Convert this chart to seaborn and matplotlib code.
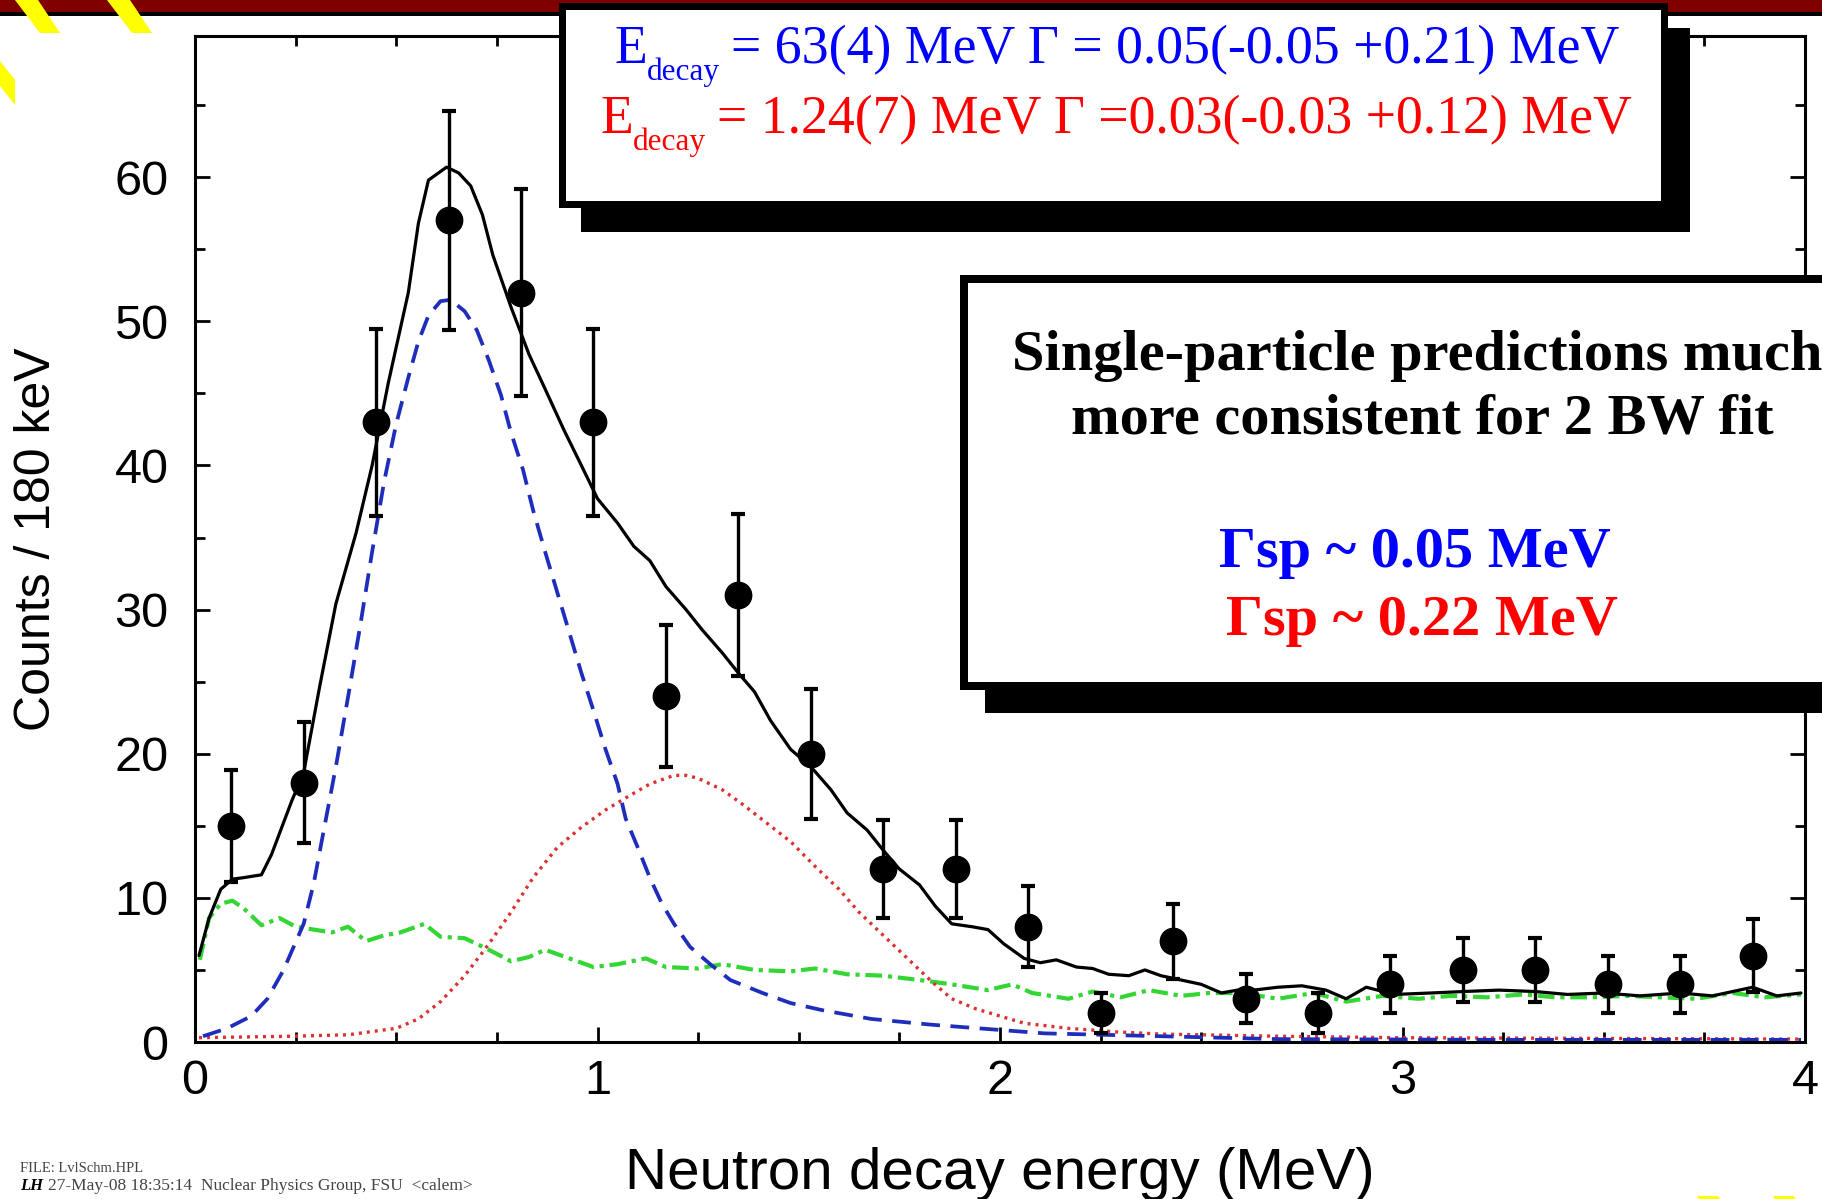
import matplotlib
matplotlib.use('Agg')
import matplotlib.pyplot as plt
import seaborn as sns
from matplotlib.patches import Rectangle, Polygon
from matplotlib.ticker import MultipleLocator

# measured spectrum, counts per 180 keV bin
bin_centers = [0.09, 0.27, 0.45, 0.63, 0.81, 0.99, 1.17, 1.35, 1.53, 1.71, 1.89,
               2.07, 2.25, 2.43, 2.61, 2.79, 2.97, 3.15, 3.33, 3.51, 3.69, 3.87]
counts = [15, 18, 43, 57, 52, 43, 24, 31, 20, 12, 12, 8, 2, 7, 3, 2, 4, 5, 5, 4, 4, 6]
count_err = [3.9, 4.2, 6.5, 7.6, 7.2, 6.5, 4.9, 5.6, 4.5, 3.4, 3.4, 2.8, 1.4, 2.6,
             1.7, 1.4, 2.0, 2.2, 2.2, 2.0, 2.0, 2.5]

# total fit (solid black)
total_x = [0.01, 0.035, 0.064, 0.093, 0.12, 0.165, 0.19, 0.24, 0.27, 0.31, 0.35, 0.40,
           0.44, 0.48, 0.53, 0.555, 0.58, 0.625, 0.655, 0.685, 0.714, 0.74, 0.785, 0.83,
           0.87, 0.916, 0.96, 1.0, 1.05, 1.09, 1.13, 1.17, 1.22, 1.26, 1.31, 1.35, 1.39,
           1.43, 1.48, 1.53, 1.58, 1.62, 1.67, 1.71, 1.75, 1.80, 1.84, 1.88, 1.93, 1.97,
           2.01, 2.06, 2.10, 2.14, 2.19, 2.23, 2.27, 2.32, 2.36, 2.40, 2.45, 2.50, 2.55,
           2.59, 2.63, 2.69, 2.75, 2.81, 2.86, 2.91, 2.98, 3.07, 3.15, 3.24, 3.33, 3.41,
           3.50, 3.59, 3.69, 3.77, 3.87, 3.93, 3.99]
total_y = [6.0, 8.6, 10.6, 11.3, 11.4, 11.6, 13.0, 16.7, 18.7, 24.7, 30.4, 35.3,
           40.0, 45.7, 52.0, 56.8, 59.8, 60.7, 60.3, 59.4, 57.4, 54.6, 51.0, 47.7,
           45.3, 42.5, 40.0, 37.7, 36.0, 34.4, 33.4, 31.6, 30.0, 28.6, 27.0, 25.6, 24.3,
           22.3, 20.3, 19.1, 17.5, 15.9, 14.7, 13.3, 12.0, 10.9, 9.4, 8.2, 8.0, 7.8,
           6.8, 5.8, 5.5, 5.7, 5.2, 5.1, 4.7, 4.6, 5.0, 4.6, 4.3, 4.0, 3.4,
           3.6, 3.6, 3.8, 3.9, 3.6, 3.0, 3.8, 3.3, 3.4, 3.5, 3.6, 3.5, 3.3,
           3.4, 3.2, 3.4, 3.2, 3.8, 3.2, 3.4]

# first resonance (blue dashed)
low_x = [0.02, 0.08, 0.14, 0.18, 0.22, 0.27, 0.295, 0.32, 0.35, 0.38, 0.41, 0.44,
         0.47, 0.50, 0.53, 0.555, 0.58, 0.61, 0.635, 0.67, 0.70, 0.73, 0.76, 0.785,
         0.815, 0.84, 0.87, 0.90, 0.93, 0.96, 0.99, 1.02, 1.05, 1.07, 1.10, 1.13,
         1.16, 1.19, 1.23, 1.28, 1.33, 1.41, 1.48, 1.56, 1.68, 1.83, 1.97, 2.11,
         2.40, 2.69, 3.27, 3.99]
low_y = [0.4, 0.95, 1.8, 3.0, 5.0, 8.2, 11.0, 14.7, 19.1, 23.9, 28.8, 34.0,
         38.9, 42.9, 46.1, 48.6, 50.4, 51.4, 51.5, 50.7, 49.4, 47.3, 44.9, 42.3,
         39.7, 36.9, 34.0, 31.2, 28.4, 25.6, 23.0, 20.3, 17.9, 15.5, 13.5, 11.4,
         9.6, 8.2, 6.6, 5.4, 4.3, 3.4, 2.7, 2.2, 1.6, 1.2, 0.9, 0.6,
         0.4, 0.2, 0.15, 0.15]

# second resonance (red dotted)
high_x = [0.01, 0.24, 0.38, 0.50, 0.555, 0.61, 0.67, 0.73, 0.785, 0.84, 0.90, 0.96,
          1.02, 1.08, 1.13, 1.19, 1.22, 1.25, 1.31, 1.36, 1.42, 1.48, 1.54, 1.60,
          1.65, 1.71, 1.77, 1.83, 1.88, 1.94, 2.00, 2.06, 2.17, 2.29, 2.40, 2.69,
          2.98, 3.99]
high_y = [0.3, 0.4, 0.5, 0.95, 1.6, 2.8, 4.6, 6.8, 9.0, 11.4, 13.5, 14.9,
          16.1, 17.1, 17.9, 18.5, 18.5, 18.3, 17.5, 16.5, 15.2, 13.9, 12.2, 10.6,
          9.0, 7.4, 5.8, 4.2, 3.0, 2.3, 1.8, 1.3, 0.95, 0.7, 0.55, 0.4,
          0.3, 0.2]

# background (green dash-dot)
bg_x = [0.012, 0.035, 0.064, 0.093, 0.12, 0.165, 0.21, 0.25, 0.295, 0.34, 0.38, 0.425,
        0.47, 0.51, 0.57, 0.61, 0.67, 0.73, 0.785, 0.83, 0.87, 0.93, 0.99, 1.05,
        1.12, 1.17, 1.25, 1.31, 1.39, 1.48, 1.54, 1.62, 1.71, 1.80, 1.88, 1.97,
        2.03, 2.08, 2.17, 2.23, 2.30, 2.37, 2.45, 2.52, 2.60, 2.69, 2.78, 2.86,
        2.95, 3.04, 3.12, 3.21, 3.30, 3.38, 3.47, 3.56, 3.64, 3.73, 3.82, 3.90, 3.99]
bg_y = [5.7, 8.6, 9.6, 9.8, 9.3, 8.1, 8.6, 8.0, 7.8, 7.6, 8.0, 7.0,
        7.4, 7.6, 8.2, 7.3, 7.2, 6.4, 5.6, 5.9, 6.4, 5.8, 5.2, 5.4,
        5.8, 5.2, 5.1, 5.4, 5.0, 4.9, 5.1, 4.7, 4.6, 4.3, 4.0, 3.6,
        4.0, 3.4, 3.0, 3.5, 3.1, 3.6, 3.2, 3.4, 3.4, 3.0, 3.4, 2.8,
        3.2, 3.0, 3.2, 3.1, 3.3, 3.1, 3.1, 3.2, 3.1, 3.0, 3.4, 3.1, 3.3]

W, H = 1822, 1199


def fx(x):
    return x / W


def fy(y):
    return 1 - y / H


sns.set_theme(style='ticks')
plt.rcParams['font.family'] = ['Liberation Sans', 'DejaVu Sans']

fig = plt.figure(figsize=(W / 100, H / 100), dpi=100)
fig.patch.set_facecolor('white')
ax = fig.add_axes([fx(195), fy(1042), (1805 - 195) / W, (1042 - 36) / H])

sns.lineplot(x=bg_x, y=bg_y, ax=ax, color='#33d633', lw=3.0,
             linestyle=(0, (4.0, 1.4, 1.0, 1.4)))
sns.lineplot(x=high_x, y=high_y, ax=ax, color='#dd3030', lw=2.4,
             linestyle=(0, (0.9, 1.5)))
sns.lineplot(x=low_x, y=low_y, ax=ax, color='#1f2dbd', lw=2.7,
             linestyle=(0, (5, 2.8)))
sns.lineplot(x=total_x, y=total_y, ax=ax, color='black', lw=2.3)
ax.errorbar(bin_centers, counts, yerr=count_err, fmt='o', color='black',
            ms=19, elinewidth=2.4, capsize=5, capthick=3, zorder=5)

ax.set_xlim(0, 4)
ax.set_ylim(0, 69.8)
ax.xaxis.set_major_locator(MultipleLocator(1))
ax.xaxis.set_minor_locator(MultipleLocator(0.25))
ax.yaxis.set_major_locator(MultipleLocator(10))
ax.yaxis.set_minor_locator(MultipleLocator(5))
ax.tick_params(which='both', direction='in', top=True, right=True, width=2,
               color='black', labelsize=35, labelcolor='black')
ax.tick_params(which='major', length=11)
ax.tick_params(which='minor', length=7)
ax.tick_params(axis='x', pad=12)
ax.tick_params(axis='y', pad=19)
for sp in ax.spines.values():
    sp.set_linewidth(2.2)
    sp.set_color('black')

ax.set_xlabel('Neutron decay energy (MeV)', fontsize=42, color='black')
ax.xaxis.label.set_va('center')
ax.xaxis.set_label_coords(0.5, (1042 - 1174) / 1006)
ax.set_ylabel('Counts / 180 keV', fontsize=36, color='black')
ax.yaxis.label.set_va('center')
ax.yaxis.set_label_coords((37 - 195) / 1610, 0.5)

# slide decoration: dark red bar and yellow stripes
fig.add_artist(Rectangle((0, fy(12.5)), 1, 12.5 / H, transform=fig.transFigure,
                         facecolor='#800000', edgecolor='none', zorder=2))
fig.add_artist(Rectangle((0, fy(15.5)), 1, 3 / H, transform=fig.transFigure,
                         facecolor='black', edgecolor='none', zorder=2))
stripes = [
    [(15, 0), (38, 0), (60, 33), (40, 33)],
    [(107, 0), (130, 0), (152, 33), (132, 33)],
    [(0, 61), (15, 80), (15, 105), (0, 86)],
    [(1697, 1196), (1718, 1196), (1720, 1199), (1699, 1199)],
    [(1773, 1196), (1794, 1196), (1796, 1199), (1775, 1199)],
]
for pts in stripes:
    fig.add_artist(Polygon([(fx(a), fy(b)) for a, b in pts], closed=True,
                           transform=fig.transFigure, facecolor='#ffff00',
                           edgecolor='none', zorder=3))


def boxed(x0, y0, x1, y1, shadow_dx, shadow_dy, lw_px):
    fig.add_artist(Rectangle((fx(x0 + shadow_dx), fy(y1 + shadow_dy)),
                             (x1 - x0) / W, (y1 - y0) / H, transform=fig.transFigure,
                             facecolor='black', edgecolor='none', zorder=4))
    h = lw_px / 2
    fig.add_artist(Rectangle((fx(x0 + h), fy(y1 - h)), (x1 - x0 - lw_px) / W,
                             (y1 - y0 - lw_px) / H, transform=fig.transFigure,
                             facecolor='white', edgecolor='black',
                             linewidth=lw_px * 0.72, zorder=5))


serif = ['Liberation Serif', 'DejaVu Serif']


def fit_line(x_e, x_sub, x_rest, base, text, color):
    fig.text(fx(x_e), fy(base), 'E', ha='left', va='baseline', fontsize=38.7,
             color=color, family=serif, zorder=6)
    fig.text(fx(x_sub), fy(base + 17), 'decay', ha='left', va='baseline', fontsize=22.5,
             color=color, family=serif, zorder=6)
    fig.text(fx(x_rest), fy(base), text, ha='left', va='baseline', fontsize=38.7,
             color=color, family=serif, zorder=6)


# fit-result box
boxed(558, 3, 1667, 207, 23, 25, 7)
fit_line(615, 647, 731, 63, '= 63(4) MeV Γ = 0.05(-0.05 +0.21) MeV', '#0000ff')
fit_line(601, 633, 717, 133, '= 1.24(7) MeV Γ =0.03(-0.03 +0.12) MeV', '#ff0000')

# comment box
boxed(960, 275, 1860, 690, 25, 23, 8)
fig.text(fx(1417), fy(370), 'Single-particle predictions much', ha='center',
         va='baseline', fontsize=42, fontweight='bold', color='black', family=serif, zorder=6)
fig.text(fx(1422), fy(433), 'more consistent for 2 BW fit', ha='center',
         va='baseline', fontsize=42, fontweight='bold', color='black', family=serif, zorder=6)
fig.text(fx(1415), fy(567), 'Γsp ~ 0.05 MeV', ha='center', va='baseline',
         fontsize=42, fontweight='bold', color='#0000ff', family=serif, zorder=6)
fig.text(fx(1422), fy(635), 'Γsp ~ 0.22 MeV', ha='center', va='baseline',
         fontsize=42, fontweight='bold', color='#ff0000', family=serif, zorder=6)

# plot-file footer
fig.text(fx(20), fy(1168), 'FILE: LvlSchm.HPL', ha='left', va='center',
         fontsize=10.5, color='#444444', family=serif)
fig.text(fx(20), fy(1186), 'LH', ha='left', va='center', fontsize=12,
         fontweight='bold', style='italic', color='black', family=serif)
fig.text(fx(48), fy(1186), '27-May-08 18:35:14  Nuclear Physics Group, FSU  <calem>',
         ha='left', va='center', fontsize=12.5, color='#444444', family=serif)

fig.savefig('out.png', dpi=100)
